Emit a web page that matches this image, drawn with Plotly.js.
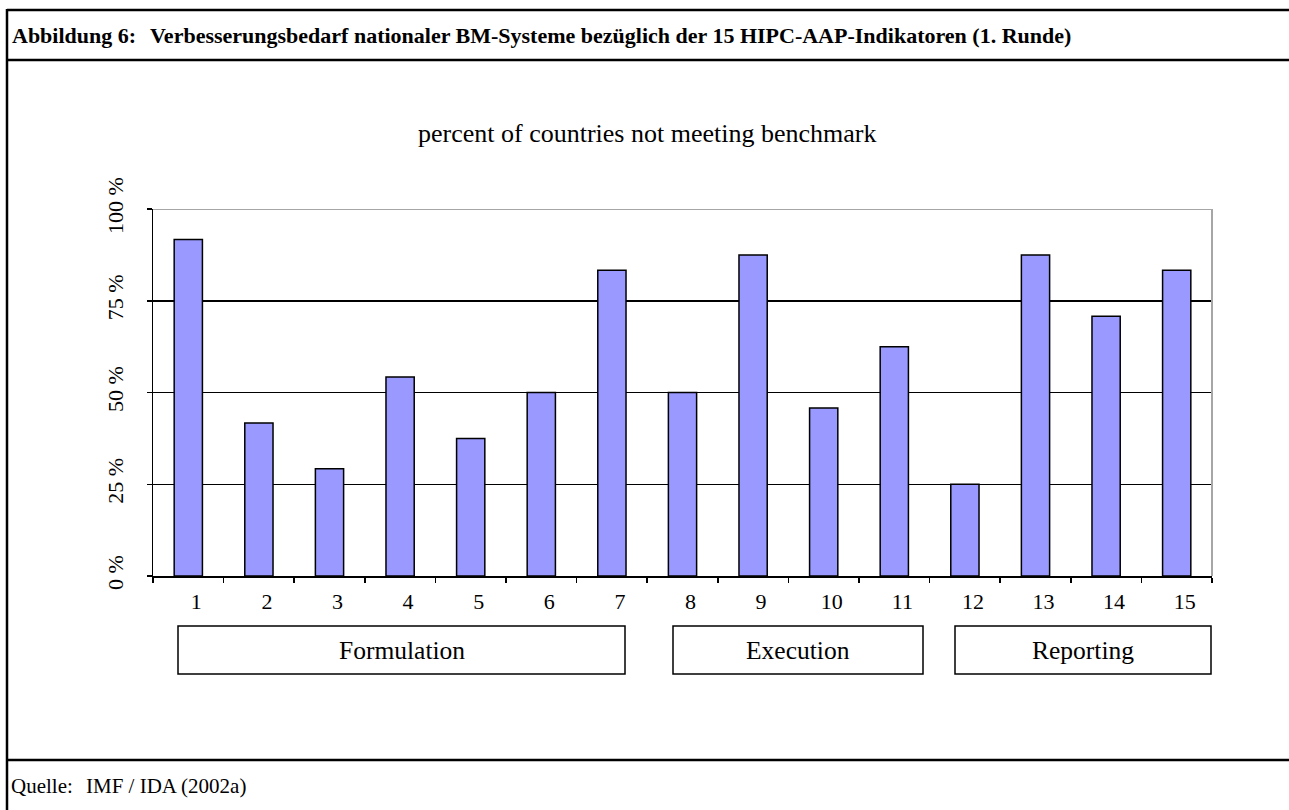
<!DOCTYPE html>
<html>
<head>
<meta charset="utf-8">
<script src="https://cdn.plot.ly/plotly-3.0.1.min.js"></script>
<style>html,body{margin:0;padding:0;background:#fff;}#chart{width:1289px;height:810px;}</style>
</head>
<body>
<div id="chart"></div>
<script>
// Data
const indicators = ['1','2','3','4','5','6','7','8','9','10','11','12','13','14','15'];
const percentNotMeeting = [91.7, 41.7, 29.2, 54.2, 37.5, 50.0, 83.3, 50.0, 87.5, 45.8, 62.5, 25.0, 87.5, 70.8, 83.3];
const yTicks = [0, 25, 50, 75, 100];
const groupNames = ['Formulation', 'Execution', 'Reporting'];

const W = 1289, H = 810;
const L = 153, R = 1212, T = 209, B = 576;
const px = x => (x - L) / (R - L);
const py = y => (B - y) / (B - T);
const serif = 'Liberation Serif, Times New Roman, serif';

const shapes = [];
function hline(y, x0, x1, w, c) {
  shapes.push({type:'line', xref:'paper', yref:'paper', x0:px(x0), x1:px(x1), y0:py(y), y1:py(y), line:{color:c||'#000', width:w||2}, layer:'above'});
}
function vline(x, y0, y1, w, c) {
  shapes.push({type:'line', xref:'paper', yref:'paper', x0:px(x), x1:px(x), y0:py(y0), y1:py(y1), line:{color:c||'#000', width:w||2}, layer:'above'});
}
// page frame
hline(10, 7, W + 5, 2.5);
hline(60, 7, W + 5, 2.5);
hline(760, 7, W + 5, 2.5);
vline(7, 9, H + 5, 2.5);
// grey top/right border of plot
shapes.push({type:'line', xref:'paper', yref:'y', x0:0, x1:1, y0:100, y1:100, line:{color:'#a6a6a6', width:2}, layer:'above'});
shapes.push({type:'line', xref:'paper', yref:'paper', x0:1, x1:1, y0:0, y1:1, line:{color:'#a6a6a6', width:2}, layer:'above'});

// group boxes (layout positions, px)
const boxes = [
  {x0:178, x1:625},
  {x0:673, x1:923},
  {x0:955, x1:1211}
];
boxes.forEach(b => {
  shapes.push({type:'rect', xref:'paper', yref:'paper', x0:px(b.x0), x1:px(b.x1), y0:py(626), y1:py(674), line:{color:'#000', width:1.5}, fillcolor:'rgba(0,0,0,0)', layer:'above'});
});
const annotations = boxes.map((b, i) => ({
  text: groupNames[i], xref:'paper', yref:'paper', x:px((b.x0 + b.x1) / 2), y:py(650),
  xanchor:'center', yanchor:'middle', showarrow:false,
  font:{family:serif, size:25.5, color:'#000'}
}));
annotations.push({text:'<b>Abbildung 6:</b>', xref:'paper', yref:'paper', x:px(10), y:py(35), xanchor:'left', yanchor:'middle', showarrow:false, font:{family:serif, size:22, color:'#000'}});
annotations.push({text:'<b>Verbesserungsbedarf nationaler BM-Systeme bezüglich der 15 HIPC-AAP-Indikatoren (1. Runde)</b>', xref:'paper', yref:'paper', x:px(148), y:py(35), xanchor:'left', yanchor:'middle', showarrow:false, font:{family:serif, size:22, color:'#000'}});
annotations.push({text:'Quelle:', xref:'paper', yref:'paper', x:px(9), y:py(786), xanchor:'left', yanchor:'middle', showarrow:false, font:{family:serif, size:21, color:'#000'}});
annotations.push({text:'IMF / IDA (2002a)', xref:'paper', yref:'paper', x:px(84), y:py(786), xanchor:'left', yanchor:'middle', showarrow:false, font:{family:serif, size:21, color:'#000'}});
annotations.push({text:'percent of countries not meeting benchmark', xref:'paper', yref:'paper', x:px(647), y:py(133), xanchor:'center', yanchor:'middle', showarrow:false, font:{family:serif, size:26, color:'#000'}});

const trace = {
  type:'bar', x:indicators, y:percentNotMeeting,
  marker:{color:'#9999ff', line:{color:'#000', width:1.5}},
  hoverinfo:'x+y'
};

const layout = {
  width:W, height:H,
  margin:{l:L, r:W - R, t:T, b:H - B, pad:0},
  paper_bgcolor:'#fff', plot_bgcolor:'#fff',
  showlegend:false,
  bargap:0.6,
  font:{family:serif, color:'#000'},
  xaxis:{
    type:'category', showline:true, linecolor:'#000', linewidth:1.5,
    ticks:'outside', tickson:'boundaries', ticklen:5, tickwidth:1.5, tickcolor:'#000',
    showgrid:false, zeroline:false,
    tickfont:{family:serif, size:22, color:'#000'}, ticklabelstandoff:5, ticklabelshift:8,
    fixedrange:true
  },
  yaxis:{
    range:[0,100], tickvals:yTicks, ticktext:yTicks.map(v => v + ' %'),
    showline:true, linecolor:'#000', linewidth:1.5,
    ticks:'outside', ticklen:5, tickwidth:1.5, tickcolor:'#000',
    showgrid:true, gridcolor:'#000', gridwidth:1.5, zeroline:false,
    tickangle:-90, tickfont:{family:serif, size:22, color:'#000'}, ticklabelstandoff:15,
    fixedrange:true
  },
  shapes:shapes,
  annotations:annotations
};

Plotly.newPlot('chart', [trace], layout, {displayModeBar:false, staticPlot:true});
</script>
</body>
</html>
